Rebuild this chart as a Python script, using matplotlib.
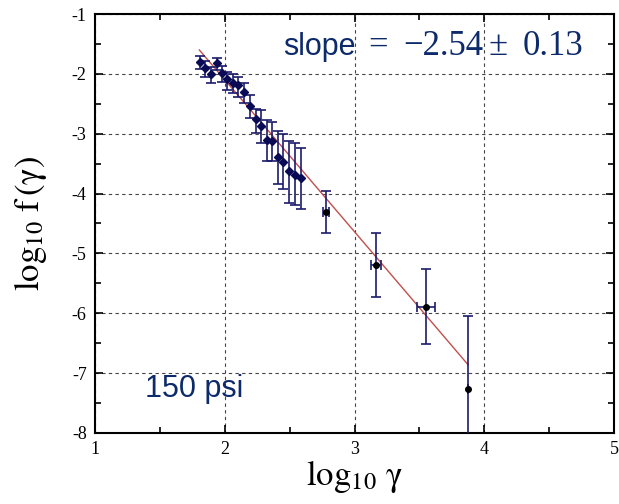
import matplotlib; matplotlib.use('Agg')

import matplotlib.pyplot as plt
import numpy as np

plt.rcParams['mathtext.fontset'] = 'stix'
plt.rcParams['axes.unicode_minus'] = False

# log10 gamma, log10 f(gamma), with lower / upper ends of the error bars
x = [1.807, 1.850, 1.892, 1.938, 1.979, 2.017, 2.061, 2.104, 2.151, 2.195,
     2.237, 2.279, 2.323, 2.366, 2.410, 2.451, 2.495, 2.540, 2.584,
     2.780, 3.163, 3.551, 3.875]
y = [-1.797, -1.897, -2.007, -1.824, -1.981, -2.091, -2.158, -2.186, -2.298, -2.529,
     -2.759, -2.879, -3.105, -3.130, -3.394, -3.476, -3.623, -3.698, -3.748,
     -4.316, -5.188, -5.890, -7.260]
y_hi = [-1.702, -1.785, -1.885, -1.730, -1.869, -1.969, -2.002, -2.052, -2.153, -2.353,
        -2.587, -2.604, -2.771, -2.804, -2.955, -3.005, -3.117, -3.147, -3.239,
        -3.965, -4.654, -5.265, -6.045]
y_lo = [-1.919, -2.052, -2.153, -1.936, -2.136, -2.270, -2.320, -2.387, -2.487, -2.737,
        -2.988, -3.155, -3.456, -3.464, -3.840, -3.923, -4.152, -4.191, -4.266,
        -4.664, -5.723, -6.513, -8.600]
x_err = [0.023, 0.038, 0.067, 0.0]

# fitted line end points
fit_x = [1.804, 3.875]
fit_y = [-1.601, -6.860]

x = np.array(x); y = np.array(y)
err = np.array([y - np.array(y_lo), np.array(y_hi) - y])

navy = '#1b1b6b'
fig = plt.figure(figsize=(6.19, 5.04), dpi=100)
ax = fig.add_axes([0.1535, 0.1409, 0.8385, 0.8313])

ax.grid(True, which='major', linestyle=(0, (3, 3)), color='#444444', linewidth=0.8)
ax.set_axisbelow(True)

ax.plot(fit_x, fit_y, color='#c0504d', linewidth=1.0, zorder=2)

n = 19
ax.errorbar(x[:n], y[:n], yerr=err[:, :n], fmt='D', ms=4.5, color='#0a0a55',
            ecolor=navy, elinewidth=1.2, capsize=3.5, capthick=1.2, zorder=3)
ax.errorbar(x[n:], y[n:], yerr=err[:, n:], xerr=x_err, fmt='o', ms=4, color='black',
            ecolor=navy, elinewidth=1.2, capsize=3.5, capthick=1.2, zorder=3)

ax.set_xlim(1, 5)
ax.set_ylim(-8, -1)
ax.set_xticks([1, 2, 3, 4, 5])
ax.set_yticks(range(-8, 0))
ax.set_xticks(np.arange(1.5, 5, 1), minor=True)
ax.set_yticks(np.arange(-7.5, -1, 1), minor=True)
ax.tick_params(which='both', direction='in', top=True, right=True, width=1.2,
               labelsize=13, pad=6)
ax.tick_params(which='major', length=6)
ax.tick_params(which='minor', length=4)
for lab in ax.get_xticklabels() + ax.get_yticklabels():
    lab.set_fontfamily('Liberation Serif')
for s in ax.spines.values():
    s.set_linewidth(1.5)

ax.set_xlabel(r'$\mathrm{log}_{10}\ \mathrm{\gamma}$', fontsize=25, labelpad=0)
ax.set_ylabel(r'$\mathrm{log}_{10}\ \mathrm{f}\,(\mathrm{\gamma})$', fontsize=25, labelpad=16)

tc = '#0d2a6b'
ax.text(2.449, -1.685, 'slope', fontsize=22, color=tc, family='Liberation Sans',
        va='baseline')
serif = dict(fontsize=25, color=tc, family='Liberation Serif', va='baseline')
ax.text(3.105, -1.685, '=', **serif)
ax.text(3.374, -1.685, '−2.54', **serif)
ax.text(4.035, -1.685, '±', **serif)
ax.text(4.299, -1.685, '0.13', **serif)
ax.text(1.385, -7.40, '150 psi', fontsize=22, color=tc, family='Liberation Sans',
        va='baseline')

plt.savefig('out.png', dpi=100)
